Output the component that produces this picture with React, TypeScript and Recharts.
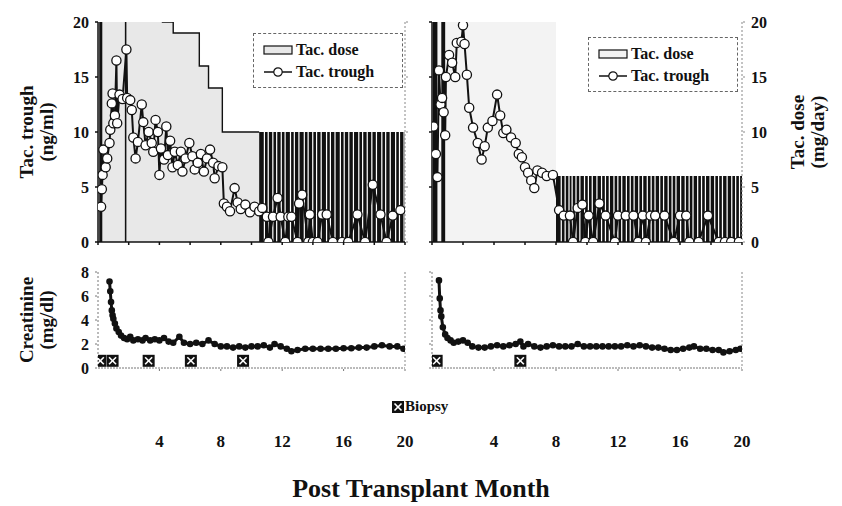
import React from "react";
import { ComposedChart, Area, Line, Scatter, XAxis, YAxis, Legend } from "recharts";

const FONT = "'Liberation Serif', 'Times New Roman', serif";
const INK = "#111";

const topMonthTicks = [0, 2, 4, 6, 8, 10, 12, 14, 16, 18, 20];
const bottomMonthTicks = [4, 8, 12, 16, 20];
const tacTicks = [0, 5, 10, 15, 20];
const creatTicks = [0, 2, 4, 6, 8];

// Tac. trough (ng/ml), [month, value]
const leftTrough: [number, number][] = [
  [0.2, 3.2], [0.25, 4.8], [0.3, 6.1], [0.35, 8.4], [0.5, 6.8], [0.6, 7.6], [0.75, 9.0], [0.8, 10.2],
  [0.9, 12.6], [0.95, 13.5], [1.0, 10.8], [1.1, 11.5], [1.2, 16.5], [1.25, 10.8], [1.4, 13.4], [1.6, 13.0],
  [1.85, 17.5], [1.9, 13.1], [2.1, 12.9], [2.2, 12.0], [2.3, 9.5], [2.45, 7.6], [2.6, 9.1], [2.85, 12.5],
  [2.95, 10.9], [3.1, 8.8], [3.3, 10.0], [3.5, 9.0], [3.6, 8.2], [3.75, 11.1], [3.9, 10.0], [4.0, 6.1],
  [4.1, 8.5], [4.3, 7.5], [4.45, 10.5], [4.55, 7.9], [4.7, 9.2], [4.85, 6.8], [5.0, 8.2], [5.2, 7.0],
  [5.4, 8.2], [5.5, 6.4], [5.7, 7.6], [5.95, 9.0], [6.15, 7.8], [6.3, 6.6], [6.5, 7.2], [6.7, 8.0],
  [6.9, 6.4], [7.1, 7.6], [7.3, 8.4], [7.5, 7.2], [7.6, 5.8], [7.85, 6.9], [8.1, 6.8], [8.2, 3.5],
  [8.4, 3.2], [8.6, 2.8], [8.9, 4.9], [9.1, 3.6], [9.3, 3.0], [9.6, 3.4], [9.9, 2.7], [10.2, 3.2],
  [10.5, 2.8], [10.7, 3.1], [11.0, 2.3], [11.1, 0], [11.4, 2.3], [11.7, 4.0], [11.9, 2.3], [12.2, 0],
  [12.4, 2.3], [12.6, 2.3], [13.0, 0], [13.1, 3.5], [13.3, 4.3], [13.7, 0], [13.8, 2.5], [14.0, 0],
  [14.3, 0], [14.6, 2.5], [14.9, 2.5], [15.3, 0], [15.9, 0], [16.3, 0], [16.9, 2.5], [17.4, 0],
  [17.9, 5.2], [18.4, 2.5], [18.8, 0], [19.2, 2.4], [19.7, 2.9],
];

const rightTrough: [number, number][] = [
  [0.1, 10.5], [0.25, 8.0], [0.35, 5.9], [0.45, 15.6], [0.55, 12.5], [0.65, 13.1], [0.75, 11.8], [0.85, 9.7],
  [0.9, 15.0], [1.1, 17.0], [1.3, 16.3], [1.5, 15.0], [1.6, 18.1], [1.9, 18.2], [2.0, 19.7], [2.1, 18.0],
  [2.25, 15.2], [2.4, 12.2], [2.65, 10.4], [2.95, 9.0], [3.2, 7.5], [3.4, 8.7], [3.6, 10.4], [3.9, 11.0],
  [4.2, 13.4], [4.4, 11.5], [4.6, 9.9], [4.8, 10.2], [5.1, 9.5], [5.4, 9.0], [5.6, 8.0], [5.8, 7.7],
  [6.0, 6.8], [6.2, 6.3], [6.4, 5.6], [6.6, 4.9], [6.8, 6.5], [7.1, 6.3], [7.4, 6.0], [7.8, 6.1],
  [8.2, 2.9], [8.5, 2.4], [8.9, 2.4], [9.1, 0], [9.4, 3.1], [9.7, 3.4], [9.9, 0], [10.1, 2.4],
  [10.4, 0], [10.8, 3.5], [11.2, 2.4], [11.8, 0], [12.0, 2.4], [12.5, 2.4], [13.0, 2.4], [13.3, 0],
  [13.6, 2.4], [13.8, 0], [14.1, 2.4], [14.4, 2.4], [15.0, 2.4], [15.6, 0], [16.0, 2.4], [16.4, 2.4],
  [16.6, 0], [17.2, 0], [17.8, 2.4], [18.5, 0], [18.9, 0], [19.3, 0], [19.8, 0],
];

// Tac. dose (mg/day): tapering steps, early full-dose bars, alternating-day phase
const leftDoseSteps: [number, number][] = [[0, 22], [4.2, 20], [4.9, 19], [6.6, 16], [7.2, 14], [8.1, 10], [10.5, 10]];
const leftDoseBars: [number, number][] = [[0.08, 0.28], [1.75, 1.85]];
const leftAlt = { start: 10.5, end: 20, level: 10 };
const leftAltGaps = [10.8, 11.05, 11.35, 11.6, 11.9, 12.15, 12.5, 12.75, 13.05, 13.4, 13.65, 13.95, 14.2, 14.5,
  14.85, 15.1, 15.4, 15.75, 16.0, 16.3, 16.6, 16.95, 17.2, 17.5, 17.8, 18.1, 18.45, 18.7, 19.0, 19.35, 19.6, 19.9];

const rightDoseSteps: [number, number][] = [[0, 22], [8.0, 22]];
const rightDoseBars: [number, number][] = [[0.05, 0.35], [0.6, 0.85]];
const rightAlt = { start: 8.0, end: 20, level: 6 };
const rightAltGaps = [8.3, 8.55, 8.8, 9.0, 9.25, 9.5, 9.8, 10.05, 10.3, 10.6, 10.9, 11.15, 11.4, 11.7, 11.95,
  12.2, 12.5, 12.75, 13.0, 13.3, 13.55, 13.85, 14.1, 14.35, 14.65, 14.9, 15.2, 15.45, 15.7, 16.0, 16.3,
  16.55, 16.8, 17.1, 17.35, 17.6, 17.9, 18.2, 18.45, 18.7, 19.0, 19.3, 19.55, 19.8];

// Creatinine (mg/dl)
const leftCreat: [number, number][] = [
  [0.75, 7.2], [0.8, 6.4], [0.85, 5.5], [0.9, 4.8], [0.95, 4.4], [1.0, 4.1], [1.1, 3.7], [1.2, 3.3],
  [1.35, 3.0], [1.5, 2.7], [1.7, 2.5], [1.9, 2.4], [2.1, 2.6], [2.3, 2.3], [2.6, 2.4], [2.9, 2.3],
  [3.1, 2.5], [3.4, 2.3], [3.7, 2.4], [4.0, 2.3], [4.3, 2.5], [4.6, 2.2], [4.9, 2.1], [5.3, 2.6],
  [5.6, 2.1], [6.0, 2.0], [6.4, 2.1], [6.8, 2.0], [7.2, 2.3], [7.6, 2.0], [8.0, 1.8], [8.4, 1.8],
  [8.8, 1.7], [9.2, 1.8], [9.6, 1.7], [10.0, 1.8], [10.4, 1.8], [10.8, 1.9], [11.2, 1.7], [11.5, 2.0],
  [11.9, 1.8], [12.3, 1.6], [12.6, 1.4], [13.0, 1.5], [13.5, 1.6], [14.0, 1.6], [14.5, 1.6], [15.0, 1.6],
  [15.5, 1.6], [16.0, 1.65], [16.5, 1.65], [17.0, 1.7], [17.5, 1.7], [18.0, 1.8], [18.5, 1.9], [19.0, 1.8],
  [19.5, 1.8], [19.9, 1.6],
];

const rightCreat: [number, number][] = [
  [0.45, 7.3], [0.5, 5.8], [0.55, 4.8], [0.6, 4.3], [0.7, 3.4], [0.85, 2.8], [1.0, 2.5], [1.2, 2.3],
  [1.4, 2.1], [1.7, 2.2], [2.0, 2.3], [2.3, 2.1], [2.6, 1.8], [3.0, 1.7], [3.4, 1.7], [3.8, 1.8],
  [4.2, 1.9], [4.6, 1.8], [5.0, 1.9], [5.4, 2.0], [5.7, 2.2], [5.9, 1.8], [6.2, 2.0], [6.6, 1.8],
  [7.0, 1.7], [7.4, 1.8], [7.8, 1.9], [8.2, 1.8], [8.6, 1.8], [9.0, 1.8], [9.4, 2.0], [9.8, 1.8],
  [10.2, 1.8], [10.6, 1.8], [11.0, 1.8], [11.4, 1.8], [11.8, 1.8], [12.2, 1.8], [12.6, 1.9], [13.0, 1.8],
  [13.4, 1.9], [13.8, 1.8], [14.2, 1.7], [14.6, 1.7], [15.0, 1.6], [15.4, 1.5], [15.8, 1.5], [16.2, 1.6],
  [16.6, 1.7], [16.9, 1.8], [17.3, 1.6], [17.7, 1.6], [18.1, 1.5], [18.5, 1.5], [18.8, 1.3], [19.2, 1.4],
  [19.6, 1.5], [19.9, 1.6],
];

// Biopsy months
const leftBiopsy = [0.15, 0.95, 3.3, 6.05, 9.45];
const rightBiopsy = [0.3, 5.7];

const pts = (a: [number, number][]) => a.map(([m, v]) => ({ m, v }));

const barPts = (bars: [number, number][], top: number) =>
  bars.flatMap(([a, b]) => [{ m: a, v: top }, { m: b, v: 0 }]);

const altPts = (alt: { start: number; end: number; level: number }, gaps: number[]) => {
  const out = [{ m: alt.start, v: alt.level }];
  gaps.forEach((g) => {
    out.push({ m: g, v: 0 });
    out.push({ m: g + 0.08, v: alt.level });
  });
  out.push({ m: alt.end, v: alt.level });
  return out;
};

const tickStyle = { fontFamily: FONT, fontSize: 16, fontWeight: 700, fill: INK };

const OpenDot = (p: any) => (
  <circle key={p.key ?? `${p.cx}-${p.cy}`} cx={p.cx} cy={p.cy} r={4.6} fill="#fff" stroke={INK} strokeWidth={1.3} />
);

const BiopsyMark = (p: any) => {
  const s = 6;
  const { cx, cy } = p;
  return (
    <g>
      <rect x={cx - s} y={cy - s} width={2 * s} height={2 * s} fill={INK} />
      <line x1={cx - s + 2.5} y1={cy - s + 2.5} x2={cx + s - 2.5} y2={cy + s - 2.5} stroke="#fff" strokeWidth={1.6} />
      <line x1={cx + s - 2.5} y1={cy - s + 2.5} x2={cx - s + 2.5} y2={cy + s - 2.5} stroke="#fff" strokeWidth={1.6} />
    </g>
  );
};

function TacLegend({ swatchFill }: { swatchFill: string }) {
  return (
    <div
      style={{
        border: "1px dashed #666",
        background: "#fff",
        padding: "5px 6px 4px 8px",
        fontFamily: FONT,
        fontWeight: 700,
        fontSize: 16,
        color: INK,
        lineHeight: "22px",
      }}
    >
      <div style={{ display: "flex", alignItems: "center" }}>
        <svg width={34} height={12}>
          <rect x={2} y={2} width={28} height={8} fill={swatchFill} stroke={INK} strokeWidth={1.2} />
        </svg>
        <span>Tac. dose</span>
      </div>
      <div style={{ display: "flex", alignItems: "center" }}>
        <svg width={34} height={12}>
          <line x1={2} y1={6} x2={30} y2={6} stroke={INK} strokeWidth={1.5} />
          <circle cx={16} cy={6} r={4.2} fill="#fff" stroke={INK} strokeWidth={1.2} />
        </svg>
        <span>Tac. trough</span>
      </div>
    </div>
  );
}

function VLabel({ x, y, lines }: { x: number; y: number; lines: string[] }) {
  return (
    <>
      {lines.map((t, i) => (
        <div
          key={t}
          style={{
            position: "absolute",
            left: x + i * 20 - 100,
            top: y - 11,
            width: 200,
            height: 22,
            textAlign: "center",
            transform: "rotate(-90deg)",
            fontFamily: FONT,
            fontWeight: 700,
            fontSize: 19,
            lineHeight: "22px",
            color: INK,
          }}
        >
          {t}
        </div>
      ))}
    </>
  );
}

function TacPanel({
  left, trough, doseSteps, doseBars, alt, gaps, stepFill, showDoseLabels, legendLeft, legendTop,
}: any) {
  const leftSide = !showDoseLabels;
  return (
    <div style={{ position: "absolute", left, top: 0 }}>
      <ComposedChart
        width={leftSide ? 420 : 422}
        height={250}
        margin={leftSide ? { top: 22, right: 10, bottom: 0, left: 38 } : { top: 22, right: 50, bottom: 0, left: 6 }}
      >
        <XAxis
          dataKey="m"
          type="number"
          domain={[0, 20]}
          ticks={topMonthTicks}
          interval={0}
          allowDataOverflow
          height={8}
          tickSize={3}
          tickFormatter={() => ""}
          stroke={INK}
          strokeWidth={1.5}
        />
        <YAxis
          yAxisId="trough"
          orientation="left"
          domain={[0, 20]}
          ticks={tacTicks}
          interval={0}
          allowDataOverflow
          width={leftSide ? 60 : 6}
          tickSize={3}
          tickMargin={6}
          tick={tickStyle}
          tickFormatter={leftSide ? undefined : () => ""}
          stroke={INK}
          strokeWidth={1.5}
        />
        <YAxis
          yAxisId="dose"
          orientation="right"
          domain={[0, 20]}
          ticks={tacTicks}
          interval={0}
          allowDataOverflow
          width={leftSide ? 5 : 50}
          tickSize={3}
          tickMargin={6}
          tick={tickStyle}
          tickFormatter={leftSide ? () => "" : undefined}
          stroke="#888"
          strokeDasharray="2 2"
        />
        <Legend
          layout="horizontal"
          verticalAlign="middle"
          align="center"
          wrapperStyle={{ left: legendLeft, top: legendTop, width: 150 }}
          content={() => <TacLegend swatchFill={stepFill} />}
        />
        <Area
          yAxisId="dose"
          data={pts(doseSteps)}
          dataKey="v"
          type="stepAfter"
          fill={stepFill}
          fillOpacity={1}
          stroke={INK}
          strokeWidth={1.4}
          isAnimationActive={false}
          legendType="none"
        />
        <Area
          yAxisId="dose"
          data={barPts(doseBars, 22)}
          dataKey="v"
          type="stepAfter"
          fill={INK}
          fillOpacity={1}
          stroke="none"
          isAnimationActive={false}
          legendType="none"
        />
        <Area
          yAxisId="dose"
          data={altPts(alt, gaps)}
          dataKey="v"
          type="stepAfter"
          fill={INK}
          fillOpacity={1}
          stroke="none"
          isAnimationActive={false}
          legendType="none"
        />
        <Line
          yAxisId="trough"
          data={pts(trough)}
          dataKey="v"
          type="linear"
          stroke={INK}
          strokeWidth={2}
          dot={OpenDot}
          activeDot={false}
          isAnimationActive={false}
        />
      </ComposedChart>
    </div>
  );
}

function CreatPanel({ left, creat, biopsy }: any) {
  const leftSide = left === 0;
  return (
    <div style={{ position: "absolute", left, top: 260 }}>
      <ComposedChart
        width={leftSide ? 420 : 422}
        height={190}
        margin={leftSide ? { top: 12, right: 10, bottom: 0, left: 38 } : { top: 12, right: 50, bottom: 0, left: 6 }}
      >
        <XAxis
          dataKey="m"
          type="number"
          domain={[0, 20]}
          ticks={bottomMonthTicks}
          interval={0}
          allowDataOverflow
          height={82}
          tickSize={3}
          tickMargin={64}
          tick={{ ...tickStyle, fontSize: 17 }}
          stroke="#777"
          strokeDasharray="2 1"
        />
        <YAxis
          yAxisId="c"
          domain={[0, 8]}
          ticks={creatTicks}
          interval={0}
          allowDataOverflow
          width={leftSide ? 60 : 6}
          tickSize={3}
          tickMargin={6}
          tick={tickStyle}
          tickFormatter={leftSide ? undefined : () => ""}
          stroke="#777"
          strokeDasharray="2 2"
        />
        <YAxis yAxisId="r" orientation="right" domain={[0, 8]} width={leftSide ? 5 : 50} tick={false} stroke="#888" strokeDasharray="2 2" />
        <Line
          yAxisId="c"
          data={pts(creat)}
          dataKey="v"
          type="linear"
          stroke={INK}
          strokeWidth={3}
          dot={{ r: 1.8, fill: INK, stroke: INK }}
          activeDot={false}
          isAnimationActive={false}
        />
        <Scatter
          yAxisId="c"
          data={biopsy.map((m: number) => ({ m, v: 0.6 }))}
          dataKey="v"
          shape={BiopsyMark}
          isAnimationActive={false}
        />
      </ComposedChart>
    </div>
  );
}

export default function App() {
  return (
    <div style={{ position: "absolute", left: 0, top: 0, width: 842, height: 506, background: "#fff", overflow: "hidden" }}>
      <TacPanel
        left={0}
        trough={leftTrough}
        doseSteps={leftDoseSteps}
        doseBars={leftDoseBars}
        alt={leftAlt}
        gaps={leftAltGaps}
        stepFill="#e8e8e8"
        showDoseLabels={false}
        legendLeft={253}
        legendTop={33}
      />
      <TacPanel
        left={420}
        trough={rightTrough}
        doseSteps={rightDoseSteps}
        doseBars={rightDoseBars}
        alt={rightAlt}
        gaps={rightAltGaps}
        stepFill="#f3f3f3"
        showDoseLabels
        legendLeft={168}
        legendTop={37}
      />
      <CreatPanel left={0} creat={leftCreat} biopsy={leftBiopsy} />
      <CreatPanel left={420} creat={rightCreat} biopsy={rightBiopsy} />

      <VLabel x={27} y={132} lines={["Tac. trough", "(ng/ml)"]} />
      <VLabel x={27} y={320} lines={["Creatinine", "(mg/dl)"]} />
      <VLabel x={798} y={132} lines={["Tac. dose", "(mg/day)"]} />

      <div
        style={{
          position: "absolute",
          left: 392,
          top: 398,
          display: "flex",
          alignItems: "center",
          fontFamily: FONT,
          fontWeight: 700,
          fontSize: 15,
          color: INK,
        }}
      >
        <svg width={12} height={12} style={{ marginRight: 1 }}>
          <BiopsyMark cx={6} cy={6} />
        </svg>
        <span>Biopsy</span>
      </div>

      <div
        style={{
          position: "absolute",
          left: 0,
          width: 842,
          top: 474,
          textAlign: "center",
          fontFamily: FONT,
          fontWeight: 700,
          fontSize: 26,
          color: INK,
        }}
      >
        Post Transplant Month
      </div>
    </div>
  );
}
